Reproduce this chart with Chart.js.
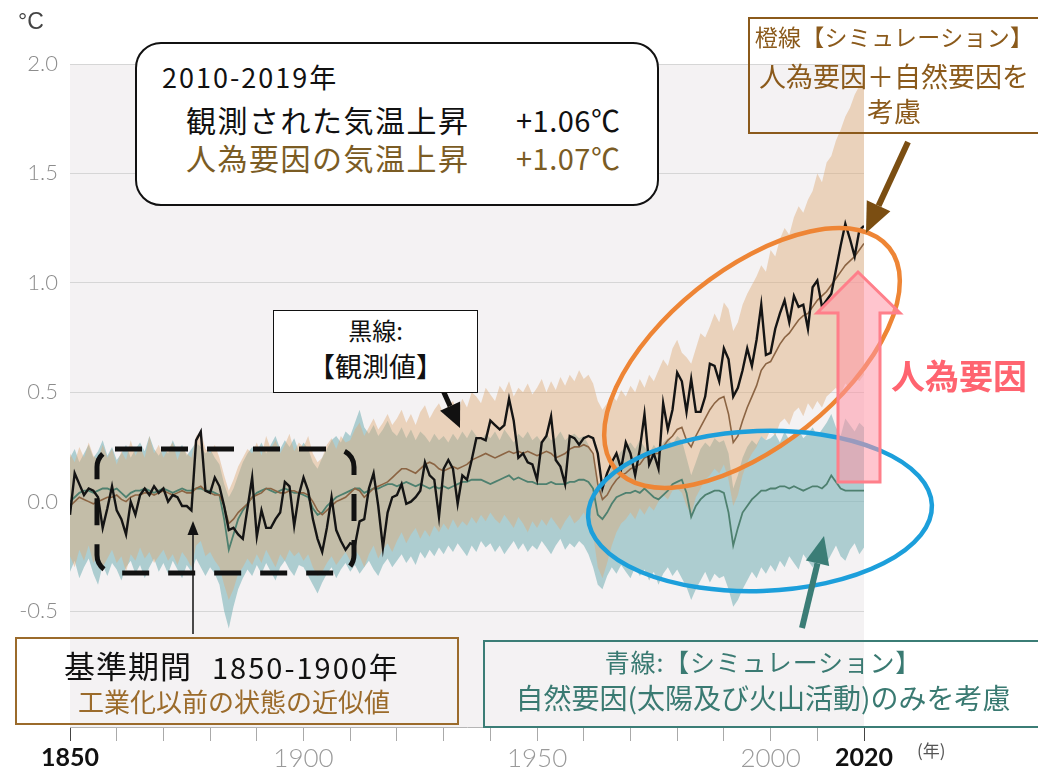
<!DOCTYPE html>
<html lang="ja">
<head>
<meta charset="utf-8">
<title>世界平均気温の変化（1850-2020年）</title>
<script src="https://cdn.jsdelivr.net/npm/chart.js@4.4.1/dist/chart.umd.min.js"></script>
<style>
  html, body { margin: 0; padding: 0; background: #fff; }
  #wrap { position: relative; width: 1038px; height: 772px; overflow: hidden; font-family: "Noto Sans CJK JP", "Noto Sans", sans-serif; }
  #chart { position: absolute; left: 0; top: 0; }
  .box { position: absolute; box-sizing: border-box; }
  .t { position: absolute; white-space: nowrap; line-height: 1; }
</style>
</head>
<body>
<div id="wrap">
  <canvas id="chart" width="1038" height="772"></canvas>

  <div class="t" style="left:18px; top:10px; font-family:'Liberation Sans'; font-size:23px; color:#444;">°C</div>

  <!-- 2010-2019 summary box -->
  <div class="box" style="left:135px; top:42px; width:524px; height:164px; border:2px solid #111; border-radius:26px; background:#fff;"></div>
  <div class="t" style="left:162px; top:63px; font-size:27px; letter-spacing:2px; color:#111;">2010-2019年</div>
  <div class="t" style="left:186px; top:104px; font-size:30px; letter-spacing:1.5px; color:#111;">観測された気温上昇</div>
  <div class="t" style="left:516px; top:105px; font-size:29px; letter-spacing:0.5px; color:#111;">+1.06℃</div>
  <div class="t" style="left:186px; top:142px; font-size:30px; letter-spacing:1.5px; color:#7b5c24;">人為要因の気温上昇</div>
  <div class="t" style="left:516px; top:143px; font-size:29px; letter-spacing:0.5px; color:#7b5c24;">+1.07℃</div>

  <!-- observed label -->
  <div class="box" style="left:273px; top:310px; width:205px; height:83px; border:1.5px solid #111; background:#fff;"></div>
  <div class="t" style="left:273px; width:205px; top:318px; text-align:center; font-size:24px; color:#111;">黒線:</div>
  <div class="t" style="left:273px; width:205px; top:352px; text-align:center; font-size:27px; color:#111;">【観測値】</div>

  <!-- orange line label -->
  <div class="box" style="left:748px; top:17px; width:294px; height:117px; border:2px solid #8b5a1b;"></div>
  <div class="t" style="left:748px; width:292px; top:25px; text-align:center; font-size:23px; letter-spacing:0.3px; color:#8b5a1b;">橙線【シミュレーション】</div>
  <div class="t" style="left:748px; width:292px; top:62px; text-align:center; font-size:27px; color:#8b5a1b;">人為要因＋自然要因を</div>
  <div class="t" style="left:748px; width:292px; top:97px; text-align:center; font-size:27px; color:#8b5a1b;">考慮</div>

  <div class="t" style="left:891px; top:358px; font-size:34px; font-weight:bold; color:#ff6470;">人為要因</div>

  <!-- reference period box -->
  <div class="box" style="left:15px; top:637px; width:444px; height:88px; border:2px solid #9b6b2b;"></div>
  <div class="t" style="left:64px; top:649px; font-size:31px; letter-spacing:1px; color:#111;">基準期間</div>
  <div class="t" style="left:212px; top:652px; font-size:29px; letter-spacing:2px; color:#111;">1850-1900年</div>
  <div class="t" style="left:78px; top:688px; font-size:26px; color:#9b6b2b;">工業化以前の状態の近似値</div>

  <!-- blue line label -->
  <div class="box" style="left:483px; top:640px; width:570px; height:88px; border:2px solid #3b7d76;"></div>
  <div class="t" style="left:483px; width:560px; top:649px; text-align:center; font-size:25px; letter-spacing:0.8px; color:#3a7a72;">青線:【シミュレーション】</div>
  <div class="t" style="left:483px; width:560px; top:683px; text-align:center; font-size:28px; color:#3a7a72;">自然要因(太陽及び火山活動)のみを考慮</div>

  <div class="t" style="left:917px; top:741px; font-size:17px; color:#555;">(年)</div>
</div>

<script>
// years 1850..2020 (x categories)
const startYear = 1850;
const endYear = 2020;
const years = Array.from({ length: endYear - startYear + 1 }, (_, i) => startYear + i);

// y-axis tick labels
const yTickValues = [-0.5, 0, 0.5, 1.0, 1.5, 2.0];
// x-axis labelled years
const xLabelYears = [1850, 1900, 1950, 2000, 2020];
const xBoldYears = [1850, 2020];

// black line: observed (annual, relative to 1850-1900)
const observed = [
  -0.06, 0.13, 0.08, 0.03, 0.06, 0.05, 0.02, -0.12, -0.03, 0.07,
  -0.04, -0.08, -0.15, 0.0, -0.06, 0.03, 0.06, 0.03, 0.07, 0.04,
  0.06, 0.0, 0.03, 0.02, -0.02, -0.02, -0.04, 0.28, 0.32, 0.05,
  0.04, 0.11, 0.07, -0.02, -0.13, -0.12, -0.15, -0.17, -0.03, 0.11,
  -0.16, -0.04, -0.12, -0.12, -0.08, -0.05, 0.09, 0.07, -0.11, 0.03,
  0.11, 0.05, -0.08, -0.17, -0.23, -0.12, 0.02, -0.13, -0.18, -0.22,
  -0.19, -0.2, -0.09, -0.08, 0.06, 0.13, -0.02, -0.21, -0.05, 0.02,
  0.03, 0.08, -0.01, 0.0, 0.02, 0.05, 0.18, 0.12, 0.1, -0.07,
  0.15, 0.19, 0.15, -0.01, 0.12, 0.1, 0.19, 0.29, 0.29, 0.28,
  0.37, 0.35, 0.33, 0.35, 0.47, 0.37, 0.2, 0.22, 0.18, 0.17,
  0.1, 0.27, 0.3, 0.39, 0.19, 0.16, 0.08, 0.3, 0.29, 0.26,
  0.29, 0.3, 0.29, 0.22, 0.06, 0.13, 0.18, 0.22, 0.15, 0.27,
  0.22, 0.12, 0.24, 0.4, 0.17, 0.22, 0.15, 0.45, 0.33, 0.42,
  0.59, 0.55, 0.41, 0.56, 0.41, 0.41, 0.48, 0.63, 0.62, 0.55,
  0.7, 0.65, 0.48, 0.52, 0.6, 0.7, 0.62, 0.74, 0.9, 0.67,
  0.68, 0.79, 0.86, 0.92, 0.82, 0.94, 0.89, 0.9, 0.79, 0.98,
  1.01, 0.89, 0.92, 0.95, 1.06, 1.17, 1.27, 1.2, 1.12, 1.24,
  1.26
];

// orange (brown) line: simulated, human + natural
const simHumanNatural = [
  -0.02, 0.0, 0.02, 0.01, 0.0, -0.01, 0.0, 0.01, 0.02, 0.02,
  0.03, 0.01, 0.0, 0.02, 0.03, 0.03, 0.04, 0.04, 0.03, 0.04,
  0.05, 0.04, 0.03, 0.04, 0.05, 0.04, 0.04, 0.06, 0.07, 0.05,
  0.04, 0.03, 0.03, -0.02, -0.1, -0.08, -0.05, -0.03, -0.01, 0.02,
  0.03, 0.04, 0.06, 0.06, 0.05, 0.04, 0.04, 0.05, 0.05, 0.04,
  0.04, 0.03, 0.0, -0.04, -0.06, -0.04, -0.02, 0.0, 0.01, 0.02,
  0.04, 0.06, 0.05, 0.02, 0.04, 0.06, 0.07, 0.08, 0.09, 0.11,
  0.13, 0.15, 0.15, 0.14, 0.13, 0.15, 0.17, 0.18, 0.17, 0.15,
  0.14, 0.15, 0.16, 0.15, 0.16, 0.17, 0.19, 0.2, 0.21, 0.22,
  0.21, 0.2, 0.21, 0.22, 0.23, 0.22, 0.23, 0.22, 0.23, 0.22,
  0.21, 0.22, 0.23, 0.22, 0.2, 0.21, 0.22, 0.24, 0.25, 0.25,
  0.26, 0.25, 0.22, 0.08, 0.01, 0.03, 0.07, 0.1, 0.12, 0.13,
  0.15, 0.16, 0.17, 0.2, 0.21, 0.22, 0.22, 0.25, 0.28, 0.3,
  0.33, 0.34, 0.28, 0.25, 0.3, 0.34, 0.38, 0.42, 0.45, 0.47,
  0.48, 0.4, 0.27, 0.3, 0.37, 0.43, 0.48, 0.53, 0.6, 0.63,
  0.64, 0.68, 0.72, 0.75, 0.77, 0.8, 0.83, 0.85, 0.86, 0.89,
  0.92, 0.94, 0.96, 0.99, 1.02, 1.05, 1.08, 1.1, 1.12, 1.15,
  1.18
];

// blue (teal) line: simulated, natural only
const simNatural = [
  0.0, 0.02, 0.04, 0.05, 0.05, 0.04, 0.05, 0.06, 0.06, 0.05,
  0.06, 0.04, 0.02, 0.04, 0.05, 0.05, 0.06, 0.05, 0.04, 0.05,
  0.06, 0.05, 0.04, 0.05, 0.06, 0.05, 0.05, 0.06, 0.06, 0.05,
  0.05, 0.04, 0.03, -0.08, -0.22, -0.15, -0.08, -0.04, -0.01, 0.02,
  0.04, 0.05, 0.06, 0.05, 0.04, 0.05, 0.06, 0.05, 0.04, 0.04,
  0.03, 0.02, -0.03, -0.06, -0.05, -0.02, 0.0, 0.02, 0.03, 0.04,
  0.05, 0.06, 0.06, 0.04, 0.05, 0.06, 0.06, 0.07, 0.08, 0.08,
  0.07, 0.08, 0.09, 0.08, 0.07, 0.08, 0.07, 0.06, 0.07, 0.06,
  0.07, 0.06, 0.07, 0.08, 0.09, 0.09, 0.1, 0.1, 0.1, 0.09,
  0.08, 0.09, 0.1, 0.11, 0.12, 0.1, 0.11, 0.1, 0.09, 0.09,
  0.08, 0.08, 0.08, 0.09, 0.08, 0.08, 0.08, 0.09, 0.09, 0.1,
  0.1, 0.09, 0.06, -0.06, -0.08, -0.05, -0.01, 0.02, 0.03, 0.04,
  0.04, 0.05, 0.04, 0.06, 0.04, 0.02, 0.01, 0.03, 0.05, 0.08,
  0.09, 0.1, 0.04, -0.07, -0.02, 0.01, 0.03, 0.04, 0.05, 0.05,
  0.04, -0.05, -0.2, -0.12, -0.05, -0.02, 0.01, 0.03, 0.05, 0.05,
  0.06, 0.06, 0.07, 0.07, 0.06, 0.07, 0.06, 0.05, 0.06, 0.07,
  0.07, 0.06, 0.08, 0.12, 0.09, 0.06, 0.05, 0.05, 0.05, 0.05,
  0.05
];

// orange shaded range (human + natural), upper / lower
const hnUpper = [
  0.22, 0.18, 0.25, 0.2, 0.27, 0.21, 0.19, 0.26, 0.2, 0.24,
  0.17, 0.23, 0.19, 0.28, 0.21, 0.25, 0.2, 0.3, 0.22, 0.26,
  0.2, 0.24, 0.27, 0.19, 0.25, 0.22, 0.2, 0.3, 0.32, 0.24,
  0.22, 0.26, 0.2, 0.12, 0.05, 0.1, 0.16, 0.2, 0.24, 0.22,
  0.27, 0.21, 0.3, 0.24, 0.28, 0.22, 0.26, 0.31, 0.23, 0.27,
  0.25, 0.3, 0.22, 0.18, 0.2, 0.26, 0.29, 0.24, 0.3, 0.27,
  0.28, 0.33, 0.36, 0.3, 0.34, 0.38, 0.33, 0.36, 0.4, 0.35,
  0.38, 0.42, 0.36, 0.4, 0.35, 0.41, 0.44, 0.38, 0.42, 0.45,
  0.4, 0.44, 0.46, 0.41, 0.47, 0.43, 0.5, 0.48, 0.45, 0.52,
  0.49, 0.46, 0.53, 0.5, 0.55, 0.48, 0.52, 0.5, 0.54, 0.49,
  0.52, 0.56, 0.5, 0.55, 0.51, 0.57, 0.53, 0.58, 0.55, 0.6,
  0.56, 0.58, 0.54, 0.46, 0.42, 0.45, 0.49, 0.46, 0.51, 0.48,
  0.53, 0.5, 0.56, 0.52, 0.58, 0.55, 0.6, 0.65, 0.62, 0.7,
  0.74, 0.68, 0.66, 0.63, 0.7, 0.77, 0.75, 0.8, 0.86, 0.82,
  0.91, 0.88, 0.78, 0.82, 0.9, 0.95, 0.99, 1.03, 1.08, 1.05,
  1.15, 1.12, 1.2, 1.25, 1.22, 1.3, 1.35, 1.32, 1.38, 1.42,
  1.5, 1.46, 1.55, 1.58, 1.65, 1.7, 1.76, 1.8, 1.86, 1.9,
  1.92
];
const hnLower = [
  -0.25, -0.3, -0.22, -0.27, -0.2, -0.28, -0.24, -0.3, -0.26, -0.22,
  -0.28, -0.25, -0.32, -0.24, -0.27, -0.21, -0.26, -0.23, -0.28, -0.25,
  -0.22, -0.27, -0.24, -0.29, -0.23, -0.26, -0.3, -0.2, -0.18, -0.25,
  -0.23, -0.27, -0.3, -0.38, -0.45, -0.4, -0.33, -0.3, -0.26, -0.29,
  -0.24, -0.28, -0.22, -0.26, -0.3, -0.24, -0.27, -0.22, -0.25, -0.23,
  -0.27, -0.24, -0.3, -0.34, -0.32, -0.28, -0.25, -0.29, -0.26, -0.23,
  -0.27, -0.22, -0.25, -0.3, -0.24, -0.2, -0.26, -0.22, -0.19, -0.23,
  -0.18, -0.14, -0.19, -0.15, -0.12, -0.17, -0.13, -0.16, -0.11, -0.14,
  -0.1, -0.13, -0.08, -0.12, -0.09, -0.11, -0.07, -0.1, -0.06, -0.09,
  -0.05, -0.08, -0.1, -0.06, -0.09, -0.12, -0.07, -0.1, -0.14, -0.09,
  -0.12, -0.08, -0.11, -0.07, -0.1, -0.13, -0.09, -0.06, -0.1, -0.08,
  -0.05, -0.09, -0.15, -0.3, -0.35, -0.28, -0.2, -0.14, -0.1, -0.08,
  -0.05, -0.08, -0.03, -0.06, -0.02, -0.04, 0.0, 0.03, 0.01, 0.05,
  0.06, 0.04, -0.02, -0.06, 0.02, 0.06, 0.1, 0.12, 0.15, 0.13,
  0.17, 0.1, -0.02, 0.03, 0.12, 0.18, 0.22, 0.25, 0.3, 0.28,
  0.33, 0.3, 0.36, 0.38, 0.35, 0.41, 0.43, 0.39, 0.45, 0.42,
  0.46, 0.43, 0.48, 0.5, 0.52, 0.49, 0.54, 0.52, 0.57, 0.55,
  0.58
];

// teal shaded range (natural only), upper / lower
const natUpper = [
  0.2, 0.24, 0.18, 0.22, 0.26, 0.2, 0.23, 0.28, 0.21, 0.25,
  0.19, 0.22, 0.26, 0.2, 0.24, 0.27, 0.23, 0.3, 0.24, 0.21,
  0.25, 0.22, 0.28, 0.23, 0.26, 0.21, 0.24, 0.27, 0.25, 0.22,
  0.24, 0.2, 0.17, 0.08, 0.02, 0.06, 0.12, 0.18, 0.22, 0.25,
  0.23, 0.27, 0.22, 0.26, 0.3, 0.24, 0.28, 0.25, 0.29, 0.23,
  0.27, 0.24, 0.18, 0.15, 0.2, 0.24, 0.28, 0.3, 0.27, 0.32,
  0.3, 0.36, 0.42, 0.34, 0.31, 0.35, 0.3, 0.33, 0.37, 0.32,
  0.3, 0.34, 0.29, 0.33, 0.28, 0.32, 0.3, 0.27, 0.31, 0.28,
  0.3, 0.27, 0.31, 0.28, 0.32, 0.29, 0.33, 0.3, 0.28, 0.31,
  0.29, 0.32, 0.28, 0.33, 0.3, 0.27, 0.31, 0.29, 0.32, 0.28,
  0.3, 0.27, 0.31, 0.28, 0.29, 0.32, 0.28, 0.3, 0.31, 0.29,
  0.3, 0.26, 0.2, 0.08, 0.05, 0.1, 0.16, 0.2, 0.23, 0.25,
  0.27, 0.24, 0.28, 0.25, 0.22, 0.26, 0.23, 0.27, 0.29, 0.26,
  0.3, 0.28, 0.2, 0.12, 0.18, 0.24, 0.27, 0.25, 0.29, 0.27,
  0.28, 0.22, 0.06, 0.12, 0.2, 0.25, 0.28, 0.26, 0.3, 0.28,
  0.29, 0.31, 0.27, 0.32, 0.28, 0.3, 0.33, 0.29, 0.31, 0.34,
  0.3, 0.33, 0.36, 0.4, 0.34, 0.3, 0.38, 0.35, 0.32, 0.36,
  0.34
];
const natLower = [
  -0.32, -0.27, -0.35, -0.3, -0.26, -0.33, -0.38, -0.29, -0.34, -0.28,
  -0.31, -0.36, -0.3, -0.27, -0.33, -0.29, -0.35, -0.3, -0.26, -0.32,
  -0.28, -0.33, -0.27, -0.31, -0.35, -0.29, -0.32, -0.26, -0.3, -0.34,
  -0.3, -0.33, -0.38, -0.5, -0.58, -0.48, -0.4, -0.35, -0.31, -0.34,
  -0.29, -0.33, -0.28, -0.32, -0.36, -0.3, -0.27, -0.31, -0.34, -0.29,
  -0.3, -0.34, -0.38, -0.42, -0.37, -0.33, -0.3, -0.35, -0.31, -0.28,
  -0.32, -0.29, -0.33, -0.3, -0.27, -0.31, -0.34, -0.29, -0.26, -0.3,
  -0.27, -0.24, -0.28, -0.25, -0.29, -0.23, -0.26, -0.22, -0.25, -0.21,
  -0.24, -0.2, -0.23, -0.19, -0.22, -0.25, -0.2, -0.23, -0.18, -0.21,
  -0.19, -0.23, -0.2, -0.24, -0.21, -0.18, -0.22, -0.19, -0.23, -0.2,
  -0.22, -0.18, -0.21, -0.24, -0.2, -0.17, -0.22, -0.19, -0.21, -0.18,
  -0.2, -0.24, -0.3, -0.38, -0.4, -0.34, -0.3, -0.33, -0.29, -0.32,
  -0.35, -0.3, -0.34, -0.31, -0.36, -0.32, -0.38, -0.33, -0.3, -0.34,
  -0.31, -0.35, -0.39, -0.45, -0.4, -0.36, -0.32, -0.37, -0.33, -0.35,
  -0.34, -0.4, -0.48, -0.45, -0.4, -0.36, -0.32, -0.35, -0.3, -0.33,
  -0.29, -0.32, -0.27, -0.3, -0.25, -0.28, -0.31, -0.24, -0.27, -0.3,
  -0.26, -0.22, -0.28, -0.24, -0.2, -0.25, -0.27, -0.22, -0.19, -0.24,
  -0.21
];

function toPoints(values) {
  return values.map((v, i) => ({ x: years[i], y: v }));
}

function isBoldYear(c) {
  return !!(c && c.tick && xBoldYears.includes(c.tick.value));
}

function drawArrow(ctx, x1, y1, x2, y2, color, width, headLen, headWidth) {
  const ang = Math.atan2(y2 - y1, x2 - x1);
  const bx = x2 - headLen * Math.cos(ang);
  const by = y2 - headLen * Math.sin(ang);
  ctx.save();
  ctx.strokeStyle = color;
  ctx.fillStyle = color;
  ctx.lineWidth = width;
  ctx.beginPath();
  ctx.moveTo(x1, y1);
  ctx.lineTo(bx, by);
  ctx.stroke();
  ctx.beginPath();
  ctx.moveTo(x2, y2);
  ctx.lineTo(bx + (headWidth / 2) * Math.sin(ang), by - (headWidth / 2) * Math.cos(ang));
  ctx.lineTo(bx - (headWidth / 2) * Math.sin(ang), by + (headWidth / 2) * Math.cos(ang));
  ctx.closePath();
  ctx.fill();
  ctx.restore();
}

// plot background + hand-drawn style annotations
const decorations = {
  id: 'decorations',
  beforeDraw(chart) {
    const { ctx, chartArea } = chart;
    ctx.save();
    ctx.fillStyle = '#f4f2f3';
    ctx.fillRect(chartArea.left, chartArea.top, chartArea.right - chartArea.left, chartArea.bottom - chartArea.top);
    ctx.restore();
  },
  afterDatasetsDraw(chart) {
    const ctx = chart.ctx;
    ctx.save();

    // dashed box around the reference period
    ctx.strokeStyle = '#111';
    ctx.lineWidth = 5;
    ctx.setLineDash([27, 19]);
    ctx.beginPath();
    ctx.roundRect(97, 449, 257, 124, 18);
    ctx.stroke();
    ctx.setLineDash([]);

    // orange ellipse (recent warming)
    ctx.strokeStyle = '#ee8535';
    ctx.lineWidth = 4.5;
    ctx.beginPath();
    ctx.ellipse(752, 358, 176, 88, -38.8 * Math.PI / 180, 0, Math.PI * 2);
    ctx.stroke();

    // blue ellipse (natural only)
    ctx.strokeStyle = '#1c9fdb';
    ctx.beginPath();
    ctx.ellipse(760, 511, 172, 80, -2 * Math.PI / 180, 0, Math.PI * 2);
    ctx.stroke();

    // pink up arrow (human-induced)
    ctx.beginPath();
    ctx.moveTo(858, 272);
    ctx.lineTo(900, 313);
    ctx.lineTo(880, 313);
    ctx.lineTo(880, 482);
    ctx.lineTo(838, 482);
    ctx.lineTo(838, 313);
    ctx.lineTo(817, 313);
    ctx.closePath();
    ctx.fillStyle = 'rgba(255, 150, 165, 0.55)';
    ctx.fill();
    ctx.strokeStyle = '#ff7f8a';
    ctx.lineWidth = 3;
    ctx.stroke();
    ctx.restore();

    drawArrow(ctx, 432, 366, 460, 428, '#111', 5, 24, 22);
    drawArrow(ctx, 908, 142, 866, 233, '#7b4e12', 6, 30, 26);
    drawArrow(ctx, 802, 628, 824, 536, '#3b7d76', 6, 28, 24);
    drawArrow(ctx, 193, 634, 193, 521, '#111', 1.5, 14, 11);
  }
};

new Chart(document.getElementById('chart'), {
  type: 'line',
  data: {
    datasets: [
      { label: '観測値', data: toPoints(observed), borderColor: '#141414', borderWidth: 2.4, pointRadius: 0, fill: false },
      { label: '人為要因＋自然要因', data: toPoints(simHumanNatural), borderColor: '#8b6443', borderWidth: 1.6, pointRadius: 0, fill: false },
      { label: '自然要因のみ', data: toPoints(simNatural), borderColor: '#4e806f', borderWidth: 1.8, pointRadius: 0, fill: false },
      { label: '人為+自然 上限', data: toPoints(hnUpper), borderColor: 'transparent', borderWidth: 0, pointRadius: 0, backgroundColor: 'rgba(222, 170, 120, 0.45)', fill: '+1' },
      { label: '人為+自然 下限', data: toPoints(hnLower), borderColor: 'transparent', borderWidth: 0, pointRadius: 0, fill: false },
      { label: '自然 上限', data: toPoints(natUpper), borderColor: 'transparent', borderWidth: 0, pointRadius: 0, backgroundColor: 'rgba(125, 180, 185, 0.6)', fill: '+1' },
      { label: '自然 下限', data: toPoints(natLower), borderColor: 'transparent', borderWidth: 0, pointRadius: 0, fill: false }
    ]
  },
  options: {
    responsive: false,
    animation: false,
    devicePixelRatio: 1,
    layout: { padding: { left: 0, top: 64, right: 174, bottom: 0 } },
    plugins: { legend: { display: false }, tooltip: { enabled: false } },
    elements: { line: { tension: 0 } },
    scales: {
      x: {
        type: 'linear',
        min: startYear,
        max: endYear,
        afterFit: (scale) => { scale.height = 45; },
        ticks: {
          stepSize: 10,
          autoSkip: false,
          maxRotation: 0,
          padding: 2,
          callback: (v) => (xLabelYears.includes(v) ? String(v) : ''),
          color: (c) => (isBoldYear(c) ? '#111' : '#9a9a9a'),
          font: (c) => (isBoldYear(c)
            ? { family: 'Lato', size: 25, weight: 'bold' }
            : { family: 'Lato', size: 26, weight: '300' })
        },
        grid: {
          drawOnChartArea: false,
          drawTicks: true,
          tickLength: 14,
          color: (c) => (isBoldYear(c) ? '#444' : '#aaa')
        },
        border: { display: true, color: '#b5b5b5' }
      },
      y: {
        min: -1.03,
        max: 2.0,
        afterFit: (scale) => { scale.width = 70; },
        afterBuildTicks: (scale) => { scale.ticks = yTickValues.map((v) => ({ value: v })); },
        ticks: {
          padding: 12,
          color: '#8c8c8c',
          font: { family: 'Lato', size: 22, weight: '300' },
          callback: (v) => v.toFixed(1)
        },
        grid: { drawTicks: false, color: '#d6d6d6', lineWidth: 1 },
        border: { display: false }
      }
    }
  },
  plugins: [decorations]
});
</script>
</body>
</html>
